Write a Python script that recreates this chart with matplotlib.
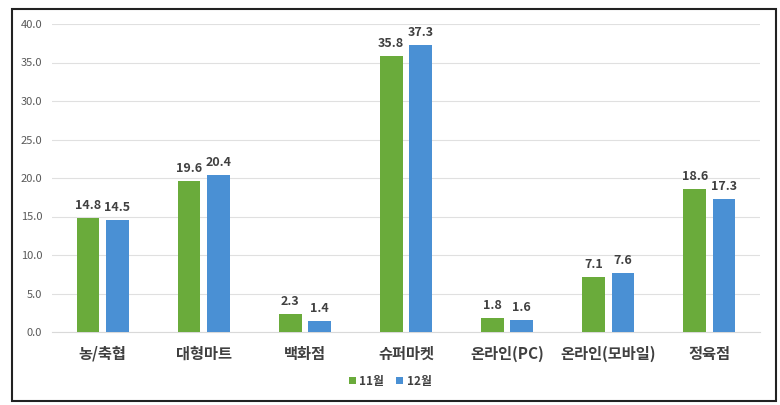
import matplotlib.pyplot as plt
from matplotlib.patches import Rectangle
import numpy as np

plt.rcParams['font.family'] = ['Noto Sans CJK KR', 'DejaVu Sans']

categories = ['농/축협', '대형마트', '백화점', '슈퍼마켓', '온라인(PC)', '온라인(모바일)', '정육점']
nov = [14.8, 19.6, 2.3, 35.8, 1.8, 7.1, 18.6]
dec = [14.5, 20.4, 1.4, 37.3, 1.6, 7.6, 17.3]
series_names = ['11월', '12월']

green = '#6aab3b'
blue = '#4a90d4'

fig = plt.figure(figsize=(7.8, 4.05), dpi=100)
ax = fig.add_axes([52 / 780, 1 - 332 / 405, (760 - 52) / 780, (332 - 24) / 405])

x = np.arange(len(categories))
w = 0.225
off = 0.145
b1 = ax.bar(x - off, nov, w, color=green, label=series_names[0], zorder=3)
b2 = ax.bar(x + off, dec, w, color=blue, label=series_names[1], zorder=3)

for bars, vals in ((b1, nov), (b2, dec)):
    for r, v in zip(bars, vals):
        ax.text(r.get_x() + r.get_width() / 2, v + 0.8, f'{v:.1f}',
                ha='center', va='bottom', fontsize=9, fontweight='bold',
                color='#404040')

ax.set_xlim(-0.5, len(categories) - 0.5)
ax.set_ylim(0, 40)
ax.set_yticks(np.arange(0, 41, 5))
ax.set_yticklabels([f'{t:.1f}' for t in np.arange(0, 41, 5)])
ax.yaxis.grid(True, color='#e0e0e0', linewidth=0.8, zorder=0)
ax.set_axisbelow(True)
for s in ax.spines.values():
    s.set_visible(False)
ax.spines['bottom'].set_visible(True)
ax.spines['bottom'].set_color('#d9d9d9')
ax.tick_params(axis='y', length=0, labelsize=8, labelcolor='#595959', pad=7)
ax.tick_params(axis='x', length=0, pad=10)
ax.set_xticks(x)
ax.set_xticklabels(categories, fontsize=11, fontweight='bold', color='#404040')

leg = fig.legend(handles=[b1, b2], labels=series_names, loc='center',
                 bbox_to_anchor=(390 / 780, 1 - 381 / 405), ncol=2, frameon=False,
                 fontsize=8.5, handlelength=0.6, handleheight=0.6,
                 handletextpad=0.3, columnspacing=1.0)
for t in leg.get_texts():
    t.set_fontweight('bold')
    t.set_color('#404040')

fig.patches.append(Rectangle((12 / 780, 1 - 401 / 405), (776 - 12) / 780, (401 - 9) / 405,
                             transform=fig.transFigure, fill=False,
                             edgecolor='#222222', linewidth=1.5))

fig.savefig('out.png', dpi=100)
